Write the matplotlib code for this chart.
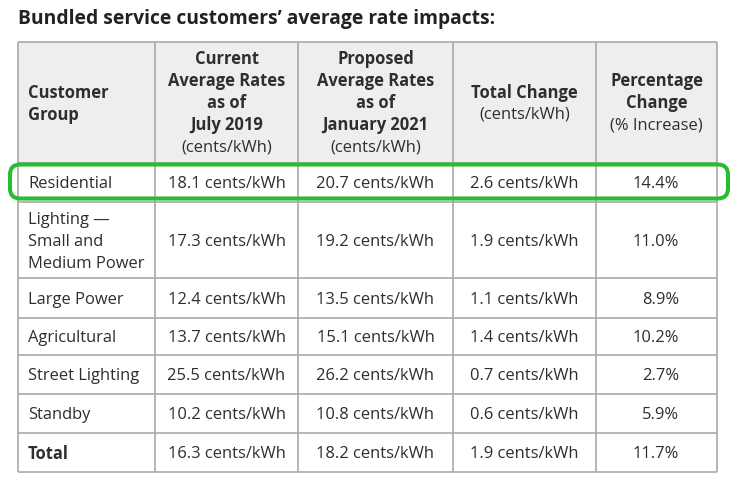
import matplotlib
matplotlib.use("Agg")
import matplotlib.pyplot as plt
from matplotlib.patches import Rectangle, FancyBboxPatch

title = "Bundled service customers\u2019 average rate impacts:"
groups = ["Residential", "Lighting \u2014\nSmall and\nMedium Power", "Large Power",
          "Agricultural", "Street Lighting", "Standby", "Total"]
current = [18.1, 17.3, 12.4, 13.7, 25.5, 10.2, 16.3]
proposed = [20.7, 19.2, 13.5, 15.1, 26.2, 10.8, 18.2]
change = [2.6, 1.9, 1.1, 1.4, 0.7, 0.6, 1.9]
pct = [14.4, 11.0, 8.9, 10.2, 2.7, 5.9, 11.7]

headers = [
    [("Customer", True), ("Group", True)],
    [("Current", True), ("Average Rates", True), ("as of", True), ("July 2019", True), ("(cents/kWh)", False)],
    [("Proposed", True), ("Average Rates", True), ("as of", True), ("January 2021", True), ("(cents/kWh)", False)],
    [("Total Change", True), ("(cents/kWh)", False)],
    [("Percentage", True), ("Change", True), ("(% Increase)", False)],
]

W, H = 740, 483
fig = plt.figure(figsize=(W / 100, H / 100), dpi=100)
ax = fig.add_axes([0, 0, 1, 1])
ax.set_xlim(0, W)
ax.set_ylim(H, 0)
ax.axis("off")

FONT = "Open Sans"
TXT = "#2e2e2e"
GRID = "#a9a9a9"
FS = 11.9
LH = 22

col_x = [18, 155, 298, 453, 596, 717]
row_y = [42, 163, 202, 278, 318, 355, 394, 433, 472]

ax.text(18, 19, title, fontsize=13.9, fontweight="bold", family=FONT, color="#222222",
        ha="left", va="center")

ax.add_patch(Rectangle((col_x[0], row_y[0]), col_x[-1] - col_x[0], row_y[1] - row_y[0],
                       facecolor="#eeeef0", edgecolor="none", zorder=0))

for x in col_x:
    ax.plot([x, x], [row_y[0], row_y[-1]], color=GRID, lw=1.2, zorder=1, solid_capstyle="butt")
for y in row_y:
    ax.plot([col_x[0], col_x[-1]], [y, y], color=GRID, lw=1.2, zorder=1, solid_capstyle="butt")

# header
hc = (row_y[0] + row_y[1]) / 2 + 1
for ci, lines in enumerate(headers):
    n = len(lines)
    for li, (txt, bold) in enumerate(lines):
        y = hc + (li - (n - 1) / 2) * LH
        if ci == 0:
            x, ha = 28, "left"
        else:
            x, ha = (col_x[ci] + col_x[ci + 1]) / 2, "center"
        ax.text(x, y, txt, fontsize=FS, fontweight="bold" if bold else "normal",
                family=FONT, color=TXT, ha=ha, va="center")

# body
for ri, g in enumerate(groups):
    yc = (row_y[ri + 1] + row_y[ri + 2]) / 2 + 1.5
    glines = g.split("\n")
    n = len(glines)
    for li, t in enumerate(glines):
        ax.text(28, yc + (li - (n - 1) / 2) * LH, t, fontsize=FS, family=FONT, color=TXT,
                fontweight="bold" if g == "Total" else "normal", ha="left", va="center")
    vals = [f"{current[ri]:.1f} cents/kWh", f"{proposed[ri]:.1f} cents/kWh",
            f"{change[ri]:.1f} cents/kWh"]
    for ci, v in enumerate(vals):
        ax.text((col_x[ci + 1] + col_x[ci + 2]) / 2, yc, v, fontsize=FS, family=FONT,
                color=TXT, ha="center", va="center")
    ax.text(679, yc, f"{pct[ri]:.1f}%", fontsize=FS, family=FONT, color=TXT,
            ha="right", va="center")

# green highlight around first row
ax.add_patch(FancyBboxPatch((10, 164.5), 718, 34,
                            boxstyle="round,pad=0,rounding_size=10",
                            facecolor="none", edgecolor="#25bd31", lw=2.9, zorder=5))

fig.savefig("out.png", dpi=100)
